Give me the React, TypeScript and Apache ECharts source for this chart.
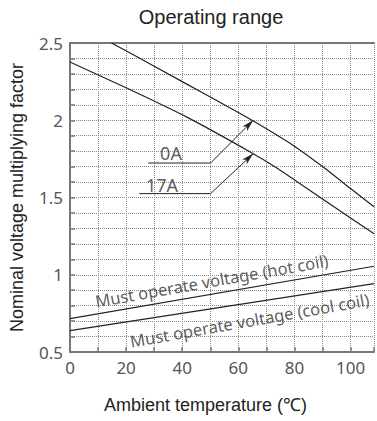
import React, { useEffect, useRef } from "react";
import * as echarts from "echarts";

// Data
const temps0A = [14.8, 30, 50, 60, 70, 80, 90, 100, 108.35];
const vals0A = [2.5, 2.35, 2.15, 2.05, 1.945, 1.832, 1.7, 1.558, 1.44];
const temps17A = [0, 20, 42, 65, 74, 90, 100, 108.35];
const vals17A = [2.377, 2.21, 2.017, 1.787, 1.688, 1.49, 1.368, 1.266];
const tempsCoil = [0, 108.35];
const valsHotCoil = [0.716, 1.055];
const valsCoolCoil = [0.638, 0.943];

const leader0A = [[27.9, 1.723], [50.1, 1.723]];
const arrow0A = [[50.1, 1.723], [65.3, 2.0]];
const leader17A = [[24.7, 1.525], [50.1, 1.525]];
const arrow17A = [[50.1, 1.525], [65.3, 1.784]];

const labelTexts = ["0A", "17A", "Must operate voltage (hot coil)", "Must operate voltage (cool coil)"];
const labelPositions = [[36, 1.785], [32.8, 1.578], [50.5, 0.962], [64, 0.706]];
const labelRotations = [0, 0, 10, 10];

const X_MIN = 0;
const X_MAX = 108.35;
const Y_MIN = 0.5;
const Y_MAX = 2.5;

const zip = (xs: number[], ys: number[]) => xs.map((x, i) => [x, ys[i]]);

const lineColor = "#222";
const annotFont = "'Noto Sans', sans-serif";

export default function App() {
  const ref = useRef<HTMLDivElement>(null);
  useEffect(() => {
    if (!ref.current) return;
    const chart = echarts.init(ref.current, undefined, { renderer: "svg" });
    const curve = (data: number[][]) => ({
      type: "line",
      data,
      symbol: "none",
      silent: true,
      smooth: 0.2,
      lineStyle: { color: lineColor, width: 1.2 },
      clip: true,
    });
    const arrowSeries = (lead: number[][], arr: number[][]) => ({
      type: "line",
      data: lead,
      symbol: "none",
      silent: true,
      lineStyle: { color: lineColor, width: 1 },
      markLine: {
        silent: true,
        symbolSize: [5, 12],
        label: { show: false },
        lineStyle: { color: lineColor, width: 1, type: "solid" },
        data: [[
          { coord: arr[0], symbol: "none" },
          { coord: arr[1], symbol: "arrow" },
        ]],
      },
    });
    chart.setOption({
      animation: false,
      title: {
        text: "Operating range",
        left: 206,
        textAlign: "center",
        top: 2,
        textStyle: { fontFamily: "'Liberation Sans', Arial, sans-serif", fontSize: 20, fontWeight: "normal", color: "#222" },
      },
      grid: { left: 70, right: 0, top: 43, bottom: 69 },
      xAxis: [
        {
          type: "value",
          min: X_MIN,
          max: X_MAX,
          interval: 10,
          name: "Ambient temperature (℃)",
          nameLocation: "middle",
          nameGap: 44,
          nameTextStyle: { fontFamily: "'Liberation Sans', Arial, sans-serif", fontSize: 18, color: "#222", padding: [0, 33, 0, 0] },
          axisLine: { show: true, lineStyle: { color: "#777", width: 2 } },
          axisTick: { show: true, inside: true, length: 5, lineStyle: { color: "#777", width: 1.5 } },
          axisLabel: {
            margin: 7,
            fontFamily: "'Noto Sans', sans-serif",
            fontSize: 17,
            color: "#555",
            formatter: (v: number) => (Math.abs(v % 20) < 1e-6 ? String(v) : ""),
          },
          splitLine: { show: true, lineStyle: { color: "#888", type: "dotted", width: 1 } },
        },
        {
          type: "value",
          position: "top",
          min: X_MIN,
          max: X_MAX,
          axisLine: { show: true, lineStyle: { color: "#777", width: 2 } },
          axisTick: { show: false },
          axisLabel: { show: false },
          splitLine: { show: false },
        },
      ],
      yAxis: {
        type: "value",
        min: Y_MIN,
        max: Y_MAX,
        interval: 0.1,
        name: "Nominal voltage multiplying factor",
        nameLocation: "middle",
        nameGap: 44,
        nameTextStyle: { fontFamily: "'Liberation Sans', Arial, sans-serif", fontSize: 18, color: "#222" },
        axisLine: { show: true, lineStyle: { color: "#777", width: 2 } },
        axisTick: { show: true, inside: true, length: 5, lineStyle: { color: "#777", width: 1.5 } },
        axisLabel: {
          margin: 7,
          fontFamily: "'Noto Sans', sans-serif",
          fontSize: 17,
          color: "#555",
          formatter: (v: number) =>
            Math.abs(v * 2 - Math.round(v * 2)) < 1e-6 ? String(+v.toFixed(1)) : "",
        },
        splitLine: { show: true, lineStyle: { color: "#888", type: "dotted", width: 1 } },
      },
      series: [
        curve(zip(temps0A, vals0A)),
        curve(zip(temps17A, vals17A)),
        curve(zip(tempsCoil, valsHotCoil)),
        curve(zip(tempsCoil, valsCoolCoil)),
        arrowSeries(leader0A, arrow0A),
        arrowSeries(leader17A, arrow17A),
        ...labelTexts.map((t, i) => ({
          type: "scatter",
          silent: true,
          symbolSize: 1,
          itemStyle: { color: "rgba(0,0,0,0)" },
          data: [labelPositions[i]],
          labelLayout: { hideOverlap: false },
          label: {
            show: true,
            position: "inside",
            formatter: t,
            rotate: labelRotations[i],
            fontFamily: annotFont,
            fontSize: i < 2 ? 18 : 16.5,
            color: "#333",
          },
        })),
      ],
    });
    return () => chart.dispose();
  }, []);
  return <div ref={ref} style={{ position: "absolute", left: 0, top: 0, width: 377, height: 421 }} />;
}
